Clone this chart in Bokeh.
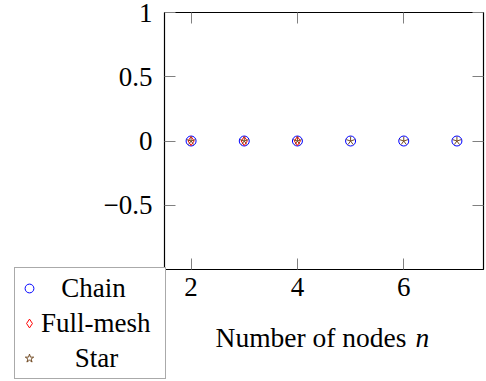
import numpy as np
from bokeh.plotting import figure
from bokeh.models import (FixedTicker, LinearAxis, Range1d, Legend, LegendItem, Label, BoxAnnotation)
from bokeh.embed import file_html
from bokeh.resources import INLINE

# ---- data ----
chain_n = [2, 3, 4, 5, 6, 7]
chain_val = [0, 0, 0, 0, 0, 0]
mesh_n = [2, 3, 4]
mesh_val = [0, 0, 0]
star_n = [2, 3, 4, 5, 6, 7]
star_val = [0, 0, 0, 0, 0, 0]
series_names = ["Chain", "Full-mesh", "Star"]
x_ticks = [2, 4, 6]
y_ticks = [-0.5, 0, 0.5, 1]
y_tick_labels = ["\u22120.5", "0", "0.5", "1"]
x_label = "Number of nodes"
x_label_var = "n"
x_lim = (1.5, 7.5)
y_lim = (-1, 1)

FONT = "Liberation Serif"
BLUE = "#0000ff"
RED = "#ff0000"
BROWN = "#734d26"
TICK = "#808080"
W, H = 486, 381
NB = "\u00a0"

# axes box in canvas pixels (layout only)
BOX_L, BOX_R, BOX_T, BOX_B = 164, 483, 12, 269
ux = (BOX_R - BOX_L) / (x_lim[1] - x_lim[0])
uy = (BOX_B - BOX_T) / (y_lim[1] - y_lim[0])
xr = Range1d(x_lim[0] - BOX_L / ux, x_lim[1] + (W - BOX_R) / ux)
yr = Range1d(y_lim[0] - (H - BOX_B) / uy, y_lim[1] + BOX_T / uy)

p = figure(width=W, height=H, output_backend="svg", toolbar_location=None,
           x_range=xr, y_range=yr, x_axis_location=None, y_axis_location=None,
           min_border=0, min_border_left=0, min_border_right=0,
           min_border_top=0, min_border_bottom=0)
p.grid.visible = False
p.outline_line_color = None
p.background_fill_color = "white"
p.border_fill_color = "white"


def make_axis(side, ticks, loc, labels=True):
    ax = LinearAxis(fixed_location=loc)
    ax.ticker = FixedTicker(ticks=ticks)
    ax.axis_line_color = None
    ax.major_tick_in = 11
    ax.major_tick_out = 0
    ax.minor_tick_line_color = None
    ax.major_tick_line_color = TICK
    ax.major_tick_line_width = 1
    if labels:
        ax.major_label_text_font = FONT
        ax.major_label_text_font_size = "27px"
        ax.major_label_text_color = "black"
    else:
        ax.major_label_text_font_size = "1px"
        ax.major_label_text_color = None
        ax.major_label_standoff = 0
    p.add_layout(ax, side)
    return ax


xa = make_axis("below", x_ticks, y_lim[0])
xa.major_label_standoff = 8
ya = make_axis("left", y_ticks, x_lim[0])
ya.major_label_standoff = 12
ya.major_label_overrides = {float(v): s for v, s in zip(y_ticks, y_tick_labels)}
make_axis("above", x_ticks, y_lim[1], labels=False)
make_axis("right", y_ticks, x_lim[1], labels=False)

# axes box
p.add_layout(BoxAnnotation(left=x_lim[0], right=x_lim[1], bottom=y_lim[0], top=y_lim[1],
                           fill_alpha=0, line_color="black", line_alpha=1,
                           line_width=1.2, level="underlay"))

# ---- series ----
r_chain = p.scatter(chain_n, chain_val, marker="circle", size=10,
                    line_color=BLUE, fill_color=None, line_width=1)
r_mesh = p.scatter(mesh_n, mesh_val, marker="diamond", size=9,
                   line_color=RED, fill_color=None, line_width=1)
spokes = 90 + 72 * np.arange(5)
sx = np.repeat(star_n, len(spokes))
sy = np.repeat(star_val, len(spokes))
sa = np.tile(spokes, len(star_n))
p.ray(sx, sy, length=4.5, length_units="screen", angle=sa,
      angle_units="deg", line_color=BROWN, line_width=1)
# legend symbol for the star series (hidden renderer)
r_star_leg = p.scatter(star_n, star_val, marker="star", line_color=BROWN,
                       fill_color=None, line_width=1, visible=False)

legend = Legend(
    items=[LegendItem(label=NB * 3 + series_names[0], renderers=[r_chain]),
           LegendItem(label=series_names[1], renderers=[r_mesh]),
           LegendItem(label=NB * 5 + series_names[2], renderers=[r_star_leg])],
    location=(14, 2), glyph_width=22, glyph_height=34, label_height=34,
    label_width=121, spacing=1, padding=3, margin=0, label_standoff=1,
    border_line_color="#555555", border_line_width=1,
    background_fill_color="white", background_fill_alpha=1,
    inactive_fill_alpha=0,
    label_text_font=FONT, label_text_font_size="27px", label_text_color="black")
p.add_layout(legend)

# x-axis title
p.add_layout(Label(x=406, y=44, x_units="screen", y_units="screen", text=x_label,
                   text_align="right", text_baseline="alphabetic", text_font=FONT,
                   text_font_size="27.5px", text_color="black"))
p.add_layout(Label(x=415, y=44, x_units="screen", y_units="screen", text=x_label_var,
                   text_align="left", text_baseline="alphabetic", text_font=FONT,
                   text_font_style="italic", text_font_size="27.5px", text_color="black"))

open("out.html", "w").write(file_html(p, INLINE))
